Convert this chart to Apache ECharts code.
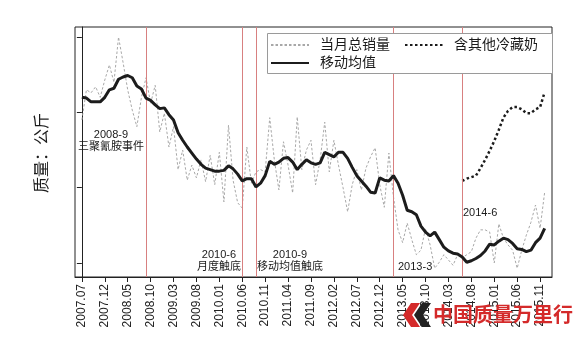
<!DOCTYPE html>
<html>
<head>
<meta charset="utf-8">
<script src="https://cdn.jsdelivr.net/npm/echarts@6/dist/echarts.min.js"></script>
<style>
  html, body { margin: 0; padding: 0; background: #fff; }
  #chart { width: 581px; height: 344px; }
</style>
</head>
<body>
<div id="chart"></div>
<script>
// Month index 0 = 2007.07, one step per month, last = 2015.12
const tickLabels = ['2007.07','2007.12','2008.05','2008.10','2009.03','2009.08','2010.01',
  '2010.06','2010.11','2011.04','2011.09','2012.02','2012.07','2012.12','2013.05',
  '2013.10','2014.03','2014.08','2015.01','2015.06','2015.11'];
const tickStep = 5;

// 当月总销量
const monthlySales = [
  29.0, 33.0, 32.6, 33.4, 32.0, 34.3, 36.3, 34.0, 40.0, 36.6,
  33.0, 30.3, 28.1, 32.0, 34.6, 31.2, 33.6, 27.4, 29.9, 25.4,
  28.1, 22.4, 25.0, 21.0, 23.0, 21.3, 23.7, 20.8, 24.3, 20.4,
  24.7, 18.1, 28.3, 21.0, 18.0, 17.3, 25.4, 20.6, 22.1, 22.4,
  22.1, 29.3, 23.7, 19.7, 26.1, 23.0, 19.3, 29.4, 22.4, 25.0,
  26.3, 20.4, 23.7, 28.7, 22.1, 26.3, 23.0, 20.0, 16.8, 20.4,
  22.4, 19.7, 22.6, 24.1, 25.3, 20.4, 17.4, 24.6, 18.8, 14.4,
  12.7, 15.3, 13.1, 11.1, 11.7, 14.6, 12.4, 9.3, 10.1, 11.1,
  10.4, 9.7, 11.1, 10.7, 11.1, 11.5, 13.3, 14.4, 14.4, 14.1,
  10.0, 15.2, 13.3, 12.4, 11.7, 9.3, 11.7, 13.7, 15.4, 17.7,
  14.6, 19.4
];

// 移动均值
const movingAvg = [
  32.0, 31.9, 31.4, 31.4, 31.4, 32.0, 33.0, 33.2, 34.4, 34.7,
  34.9, 34.6, 33.5, 33.1, 31.9, 31.6, 31.0, 30.5, 30.6, 29.7,
  29.0, 27.3, 26.3, 25.4, 24.6, 23.8, 23.1, 22.6, 22.4, 22.2,
  22.2, 22.3, 22.9, 22.5, 21.8, 20.9, 21.2, 21.2, 20.1, 20.6,
  21.6, 23.5, 23.1, 23.4, 23.9, 24.0, 23.4, 22.4, 23.1, 23.7,
  23.3, 23.1, 23.3, 24.7, 24.4, 24.1, 24.7, 24.7, 23.9, 22.7,
  21.6, 20.9, 20.2, 19.4, 19.3, 21.3, 21.0, 20.9, 21.6, 20.6,
  19.0, 17.0, 16.8, 16.4, 14.9, 14.1, 13.6, 14.1, 13.1, 12.1,
  11.6, 11.3, 11.2, 10.8, 10.1, 10.3, 10.6, 11.0, 11.6, 12.5,
  12.4, 12.9, 13.3, 13.1, 12.6, 11.9, 11.8, 11.5, 11.7, 12.7,
  13.3, 14.6
];

// 含其他冷藏奶 (starts 2014.06)
const chilledStart = 83;
const withChilled = [
  20.9, 21.2, 21.4, 21.6, 22.6, 23.7, 24.9, 26.2, 27.7, 29.3,
  30.2, 30.7, 30.7, 30.4, 29.9, 29.9, 30.4, 30.7, 32.7
];

// Event months (index): 2008-9, 2010-6, 2010-9, 2013-3, 2014-6
const eventMonths = [14, 35, 38, 68, 83];

const yTicks = [10, 20, 30, 40];

const cjk = '"Liberation Sans", "Noto Sans CJK SC", sans-serif';

const pairs = (arr, offset) => arr.map((v, i) => [i + offset, v]);
const tickValues = tickLabels.map((_, i) => i * tickStep);

const chart = echarts.init(document.getElementById('chart'), null, { renderer: 'canvas' });

const legendBase = {
  left: 270, padding: 0,
  itemWidth: 38, itemHeight: 14, itemGap: 14,
  itemStyle: { opacity: 0 },
  textStyle: { fontSize: 14, color: '#1a1a1a', fontFamily: cjk, padding: [0, 0, 0, 6] },
  z: 20
};

chart.setOption({
  animation: false,
  backgroundColor: '#fff',
  grid: {
    left: 75, right: 29, top: 27, bottom: 67,
    show: true, borderColor: '#222', borderWidth: 1, backgroundColor: 'transparent'
  },
  xAxis: {
    type: 'value',
    min: -1.5, max: 102.6,
    axisLine: { show: true, lineStyle: { color: '#222', width: 1 } },
    axisTick: { show: true, customValues: tickValues, length: 5, lineStyle: { color: '#222' } },
    axisLabel: {
      customValues: tickValues,
      rotate: 90, margin: 7,
      fontSize: 12, color: '#222', fontFamily: '"Liberation Sans", Arial, sans-serif',
      formatter: v => tickLabels[Math.round(v / tickStep)] || ''
    },
    splitLine: { show: false }
  },
  yAxis: {
    type: 'value',
    min: 8.14, max: 41.34,
    axisLine: { show: true, lineStyle: { color: '#222', width: 1 } },
    axisTick: { show: true, customValues: yTicks, length: 5, lineStyle: { color: '#222' } },
    axisLabel: { show: false },
    splitLine: { show: false }
  },
  legend: [
    Object.assign({ data: ['当月总销量', '含其他冷藏奶'], top: 38 }, legendBase),
    Object.assign({ data: ['移动均值'], top: 56 }, legendBase)
  ],
  series: [
    {
      name: '当月总销量',
      type: 'line',
      data: pairs(monthlySales, 0),
      symbol: 'none',
      itemStyle: { color: '#a8a8a8' },
      lineStyle: { color: '#a8a8a8', width: 1, type: [2.5, 2] },
      z: 3
    },
    {
      name: '移动均值',
      type: 'line',
      data: pairs(movingAvg, 0),
      symbol: 'none',
      itemStyle: { color: '#1c1c1c' },
      lineStyle: { color: '#1c1c1c', width: 3 },
      z: 5,
      markLine: {
        silent: true,
        symbol: 'none',
        label: { show: false },
        lineStyle: { color: '#d88080', width: 1, type: 'solid' },
        data: eventMonths.map(m => ({ xAxis: m }))
      }
    },
    {
      name: '含其他冷藏奶',
      type: 'line',
      data: pairs(withChilled, chilledStart),
      symbol: 'none',
      itemStyle: { color: '#1c1c1c' },
      lineStyle: { color: '#1c1c1c', width: 2.5, type: [2.5, 2.5] },
      z: 4
    }
  ],
  graphic: [
    // legend frame
    { type: 'rect', z: 15, shape: { x: 267.5, y: 33.5, width: 285, height: 40 },
      style: { fill: '#fff', stroke: '#9a9a9a', lineWidth: 1 } },
    // y-axis title
    { type: 'text', x: 41, y: 153, rotation: Math.PI / 2, z: 20,
      style: { text: '质量：公斤', font: '16px "Noto Sans CJK SC", sans-serif', fill: '#1a1a1a',
               align: 'center', verticalAlign: 'middle' } },
    // event notes
    { type: 'text', x: 111, y: 140.5, z: 20,
      style: { text: '2008-9\n三聚氰胺事件', font: '11px ' + cjk, lineHeight: 12, fill: '#1a1a1a',
               align: 'center', verticalAlign: 'middle' } },
    { type: 'text', x: 219, y: 260.5, z: 20,
      style: { text: '2010-6\n月度触底', font: '11px ' + cjk, lineHeight: 12, fill: '#1a1a1a',
               align: 'center', verticalAlign: 'middle' } },
    { type: 'text', x: 290, y: 260.5, z: 20,
      style: { text: '2010-9\n移动均值触底', font: '11px ' + cjk, lineHeight: 12, fill: '#1a1a1a',
               align: 'center', verticalAlign: 'middle' } },
    { type: 'text', x: 398, y: 267, z: 20,
      style: { text: '2013-3', font: '11px ' + cjk, fill: '#1a1a1a',
               align: 'left', verticalAlign: 'middle' } },
    { type: 'text', x: 463, y: 213, z: 20,
      style: { text: '2014-6', font: '11px ' + cjk, fill: '#1a1a1a',
               align: 'left', verticalAlign: 'middle' } },
    // brand mark
    { type: 'polygon', z: 30,
      shape: { points: [[420, 303], [411, 303], [403, 315], [411, 327], [420, 327], [412, 315]] },
      style: { fill: '#d42a2a' } },
    { type: 'polygon', z: 30,
      shape: { points: [[431, 303], [422, 303], [414, 315], [422, 327], [431, 327], [423, 315]] },
      style: { fill: '#222' } },
    { type: 'text', x: 433, y: 314, z: 30,
      style: { text: '中国质量万里行', font: 'bold 20px "Noto Sans CJK SC", sans-serif', fill: '#d42a2a',
               align: 'left', verticalAlign: 'middle' } }
  ]
});
</script>
</body>
</html>
